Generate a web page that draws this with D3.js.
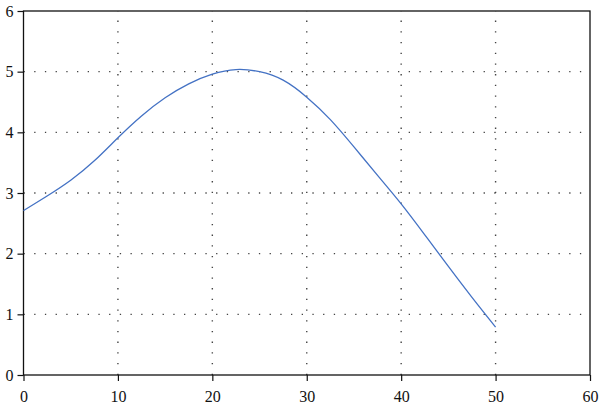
<!DOCTYPE html>
<html><head><meta charset="utf-8">
<script src="https://cdn.jsdelivr.net/npm/d3@7"></script>
<style>body{margin:0;background:#fff}svg{display:block}</style>
</head><body>
<svg id="c" width="600" height="409"></svg>
<script>
const xValues = [0,2.5,5,7.5,10,12.5,15,17.5,20,22.5,25,27.5,30,32.5,35,37.5,40,42.5,45,47.5,50];
const yValues = [2.71,2.95,3.21,3.53,3.91,4.27,4.57,4.80,4.96,5.035,5.00,4.86,4.58,4.21,3.76,3.29,2.82,2.31,1.79,1.28,0.79];
const xTicks = [0,10,20,30,40,50,60];
const yTicks = [0,1,2,3,4,5,6];

const svg = d3.select("#c");
const L = 23.5, R = 590, T = 11, B = 375;
const x = d3.scaleLinear().domain([0,60]).range([L,R]);
const y = d3.scaleLinear().domain([0,6]).range([B,T]);
const font = "'Liberation Serif', 'DejaVu Serif', serif";

// grid
const grid = svg.append("g").attr("stroke","#444").attr("stroke-width",1.4).attr("stroke-dasharray","1.3,9.4");
grid.selectAll("line.v").data(xTicks.filter(d=>d>0&&d<60)).join("line")
  .attr("x1",d=>x(d)).attr("x2",d=>x(d)).attr("y1",B).attr("y2",T);
grid.selectAll("line.h").data(yTicks.filter(d=>d>0&&d<6)).join("line")
  .attr("y1",d=>y(d)).attr("y2",d=>y(d)).attr("x1",L).attr("x2",R);

// frame
svg.append("rect").attr("x",L).attr("y",T).attr("width",R-L).attr("height",B-T)
  .attr("fill","none").attr("stroke","#111").attr("stroke-width",1.3);

// axes
const xa = svg.append("g").attr("transform",`translate(0,${B})`)
  .call(d3.axisBottom(x).tickValues(xTicks).tickSize(6).tickPadding(10).tickFormat(d3.format("d")));
const ya = svg.append("g").attr("transform",`translate(${L},0)`)
  .call(d3.axisLeft(y).tickValues(yTicks).tickSize(6).tickPadding(4).tickFormat(d3.format("d")));
[xa,ya].forEach(a=>{
  a.select(".domain").remove();
  a.selectAll(".tick line").attr("stroke","#111").attr("stroke-width",1.2);
  a.selectAll("text").attr("font-family",font).attr("font-size",16).attr("fill","#111");
});

// curve
const pts = xValues.map((v,i)=>[v,yValues[i]]);
svg.append("path").datum(pts)
  .attr("fill","none").attr("stroke","#4472C4").attr("stroke-width",1.3)
  .attr("d", d3.line().x(d=>x(d[0])).y(d=>y(d[1])).curve(d3.curveNatural));
</script>
</body></html>
